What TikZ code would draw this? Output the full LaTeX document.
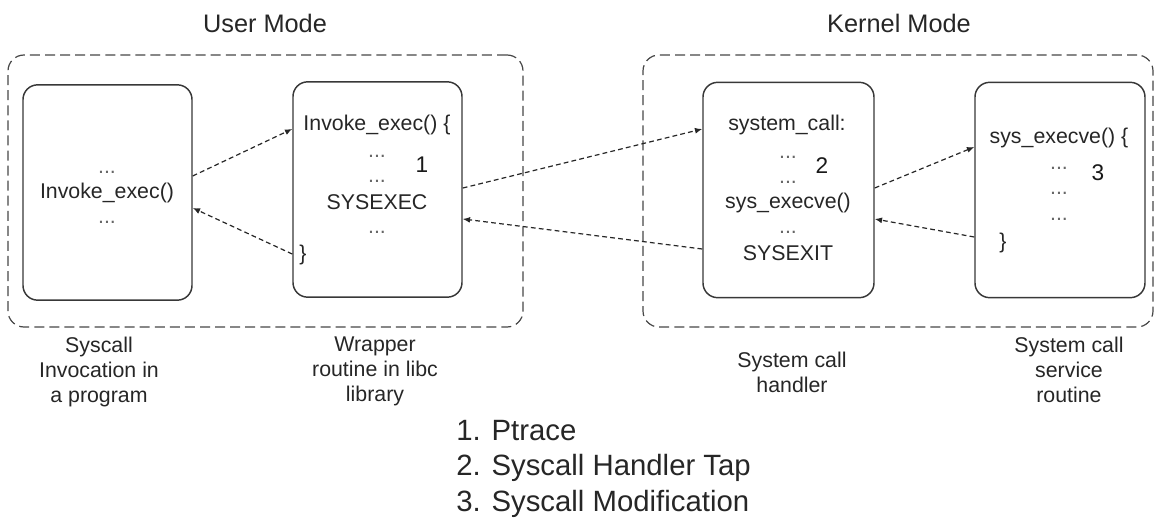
\documentclass[tikz,border=0pt]{standalone}
\usepackage{fontspec}
\setmainfont{Liberation Sans}
\usetikzlibrary{arrows.meta}

\begin{document}
\begin{tikzpicture}[x=0.75pt,y=-0.75pt,
  region/.style={draw=black!72, line width=0.9pt, dash pattern=on 7.5pt off 3.8pt,
    rounded corners=12pt, minimum width=#1, minimum height=204pt, inner sep=0pt},
  codebox/.style={draw=black!78, line width=1.1pt, rounded corners=11pt,
    minimum width=#1, minimum height=161.5pt, inner sep=0pt},
  flow/.style={-{Latex[length=5.5pt,width=4.5pt]}, line width=0.9pt,
    dash pattern=on 3.6pt off 2.4pt, draw=black!85},
  title/.style={font=\fontsize{19}{22}\selectfont, text=black!85, anchor=base},
  code/.style={font=\fontsize{16}{19}\selectfont, text=black!85, inner sep=0pt},
  dots/.style={font=\fontsize{16}{19}\selectfont, text=black!60, inner sep=0pt},
  tag/.style={font=\fontsize{17}{20}\selectfont, text=black!90, inner sep=0pt},
  caption/.style={font=\fontsize{16}{18.75}\selectfont, text=black!85, align=center,
    inner sep=0pt, anchor=north},
  legend/.style={font=\fontsize{22}{26.5}\selectfont, text=black!85, align=left,
    inner sep=0pt, anchor=north west}
]
\useasboundingbox (0,0) rectangle (1158,521);

% mode regions
\node[region=386.25pt] (user) at (265.5,191) {};
\node[region=382.5pt] (kernel) at (898,191) {};
\node[title] (usert) at (265,32) {User Mode};
\node[title] (kernt) at (899,32) {Kernel Mode};

% code boxes
\node[codebox=126.75pt] (A) at (107.5,192.5) {};
\node[codebox=126.75pt] (B) at (377.5,189.5) {};
\node[codebox=128.25pt] (C) at (788.5,190) {};
\node[codebox=127.5pt] (D) at (1060,190) {};

% program
\node[dots] (a1) at (107,172) {...};
\node[code] (a2) at (107,193) {Invoke\_exec()};
\node[dots] (a3) at (107,222) {...};

% libc wrapper
\node[code] (b1) at (377,125) {Invoke\_exec() \{};
\node[dots] (b2) at (377,156) {...};
\node[tag]  (b3) at (422,165) {1};
\node[dots] (b4) at (377,181) {...};
\node[code] (b5) at (377,202) {SYSEXEC};
\node[dots] (b6) at (377,232) {...};
\node[code] (b7) at (303,255) {\}};

% system call handler
\node[code] (c1) at (787,125) {system\_call:};
\node[dots] (c2) at (788,157) {...};
\node[tag]  (c3) at (822,166) {2};
\node[dots] (c4) at (788,182) {...};
\node[code] (c5) at (788,203) {sys\_execve()};
\node[dots] (c6) at (788,232) {...};
\node[code] (c7) at (788,253) {SYSEXIT};

% service routine
\node[code] (d1) at (1059,138) {sys\_execve() \{};
\node[dots] (d2) at (1059,168) {...};
\node[tag]  (d3) at (1098,173) {3};
\node[dots] (d4) at (1059,193) {...};
\node[dots] (d5) at (1059,219) {...};
\node[code] (d6) at (1003,243) {\}};

% calls and returns
\draw[flow] ([yshift=12.4pt]A.east) -- ([yshift=45.4pt]B.west);
\draw[flow] ([yshift=-48.4pt]B.west) -- ([yshift=-11.6pt]A.east);
\draw[flow] ([yshift=1.1pt]B.east) -- ([yshift=45.75pt]C.west);
\draw[flow] ([yshift=-44.25pt]C.west) -- ([yshift=-22.1pt]B.east);
\draw[flow] ([yshift=1.5pt]C.east) -- ([yshift=32.25pt]D.west);
\draw[flow] ([yshift=-35.25pt]D.west) -- ([yshift=-21.75pt]C.east);

% captions
\node[caption] (ca) at (99,337) {Syscall\\Invocation in\\a program};
\node[caption] (cb) at (375,337) {Wrapper\\routine in libc\\library};
\node[caption] (cc) at (792,352) {System call\\handler};
\node[caption] (cd) at (1069,337) {System call\\service\\routine};

% legend
\node[legend] (lg) at (456,420) {1. Ptrace\\2. Syscall Handler Tap\\3. Syscall Modification};
\end{tikzpicture}
\end{document}
